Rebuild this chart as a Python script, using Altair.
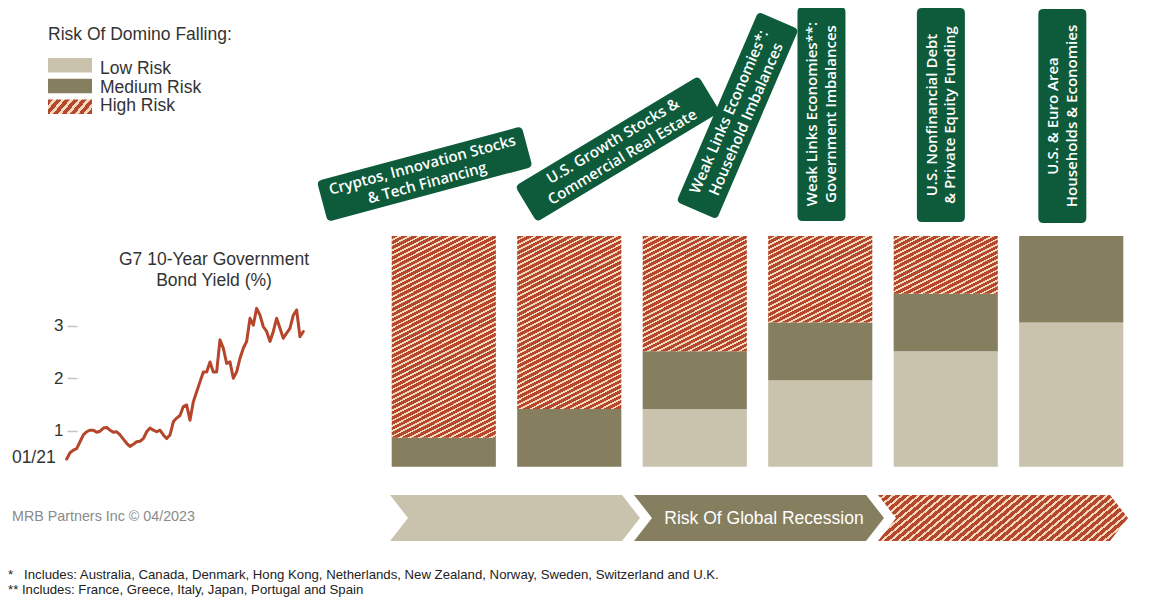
import math
import pandas as pd
import altair as alt

# ------------------------------------------------------------------ data
domino_names = [
    "Cryptos, Innovation Stocks & Tech Financing",
    "U.S. Growth Stocks & Commercial Real Estate",
    "Weak Links Economies*: Household Imbalances",
    "Weak Links Economies**: Government Imbalances",
    "U.S. Nonfinancial Debt & Private Equity Funding",
    "U.S. & Euro Area Households & Economies",
]
domino_label_lines = [
    ["Cryptos, Innovation Stocks", "& Tech Financing"],
    ["U.S. Growth Stocks &", "Commercial Real Estate"],
    ["Weak Links Economies*:", "Household Imbalances"],
    ["Weak Links Economies**:", "Government Imbalances"],
    ["U.S. Nonfinancial Debt", "& Private Equity Funding"],
    ["U.S. & Euro Area", "Households & Economies"],
]
low_risk = [0, 0, 25, 37.5, 50, 62.5]
medium_risk = [12.5, 25, 25, 25, 25, 37.5]
high_risk = [87.5, 75, 50, 37.5, 25, 0]

risk_levels = ["Low Risk", "Medium Risk", "High Risk"]
legend_title = "Risk Of Domino Falling:"
recession_labels = ["", "Risk Of Global Recession", ""]

bond_title_lines = ["G7 10-Year Government", "Bond Yield (%)"]
bond_first_label = "01/21"
bond_ticks = [1, 2, 3]
bond_start = "2021-01-04"
bond_end = "2023-04-10"
bond_yield = [
    0.46, 0.58, 0.63, 0.66, 0.79, 0.92, 0.98, 1.01, 1.01, 0.97, 0.99, 1.05,
    1.06, 1.01, 0.97, 0.98, 0.92, 0.84, 0.76, 0.70, 0.74, 0.79, 0.80, 0.85,
    0.98, 1.05, 1.01, 0.98, 1.01, 0.92, 0.85, 0.92, 1.17, 1.24, 1.29, 1.46,
    1.49, 1.20, 1.55, 1.74, 1.93, 2.12, 2.12, 2.31, 2.12, 2.12, 2.73, 2.57,
    2.28, 2.31, 2.00, 2.12, 2.38, 2.57, 2.70, 3.14, 3.01, 3.33, 3.20, 2.98,
    2.89, 2.70, 2.89, 3.14, 2.95, 2.76, 2.86, 2.95, 3.20, 3.30, 2.79, 2.89,
]

credit = "MRB Partners Inc \u00a9 04/2023"
footnotes = [
    "*\u00a0\u00a0 Includes: Australia, Canada, Denmark, Hong Kong, Netherlands, New Zealand, Norway, Sweden, Switzerland and U.K.",
    "** Includes: France, Greece, Italy, Japan, Portugal and Spain",
]

# ---------------------------------------------------------------- styles
LOW = "#C9C3AE"
MED = "#857E5F"
RUST = "#B4472C"
CREAM = "#F3D8BD"
GREEN = "#0D5B3B"
LINE = "#B5462B"
INK = "#333333"
SANS = "Liberation Sans"
LABEL_FONT = "Open Sans"

W, H = 1133, 590
BAR_RANGE = [383.7, 1115.3]
BAR_PAD = 0.17
BAR_Y = [458.7, 228.0]
STEP = (BAR_RANGE[1] - BAR_RANGE[0]) / (len(domino_names) - BAR_PAD)
BW = STEP * (1 - BAR_PAD)
PX_PER_PCT = (BAR_Y[0] - BAR_Y[1]) / 100.0

BOND_X = [58.7, 295.3]
BOND_DOMAIN = [0, 3.5]
BOND_Y = [475.2, 475.2 - 3.5 * 52.5]

# domino label layout (style only)
domino_shift = [-28, 43, 41, 3, 0.5, 0]
domino_y = [166, 141, 107.5, 106, 107, 108]
domino_angle = [345, 329, 293.3, 270, 270, 270]
domino_box = [(212, 42), (214, 42), (207, 44), (214, 48), (214, 48), (214, 48)]
LABEL_LH = 18.5

ARROW_RANGE = [507, 995]
ARROW_Y = 510
ARROW_W, ARROW_H, ARROW_D = 250, 46, 18


def hatch(w, h, theta_deg, period, light_frac):
    t = math.tan(math.radians(theta_deg))
    r = t * w / h
    b = (r + 1) / (r * r + 1)
    a = r * b
    g = math.hypot(a / w, b / h)
    n = (a + b) / (period * g)
    stops = []
    k = 0
    dark = 1 - light_frac
    while k / n < 1:
        s0 = k / n
        s1 = min((k + dark) / n, 1.0)
        s2 = min((k + 1) / n, 1.0)
        stops += [(s0, RUST), (s1, RUST), (s1, CREAM), (s2, CREAM)]
        k += 1
    return {
        "gradient": "linear", "x1": 0, "y1": 0, "x2": round(a, 5), "y2": round(b, 5),
        "stops": [{"offset": round(o, 5), "color": c} for o, c in stops],
    }


def rounded_rect_path(w, h, r):
    s = w / 2
    hx, hy, rr = 1.0, (h / 2) / s, r / s
    f = lambda v: f"{v:.4f}"
    return (f"M{f(-hx + rr)},{f(-hy)} L{f(hx - rr)},{f(-hy)} Q{f(hx)},{f(-hy)} {f(hx)},{f(-hy + rr)} "
            f"L{f(hx)},{f(hy - rr)} Q{f(hx)},{f(hy)} {f(hx - rr)},{f(hy)} L{f(-hx + rr)},{f(hy)} "
            f"Q{f(-hx)},{f(hy)} {f(-hx)},{f(hy - rr)} L{f(-hx)},{f(-hy + rr)} Q{f(-hx)},{f(-hy)} {f(-hx + rr)},{f(-hy)} Z")


def chevron_path(w, h, d):
    s = w / 2
    hy, dd = (h / 2) / s, d / s
    return (f"M-1,{-hy:.4f} L{1 - dd:.4f},{-hy:.4f} L1,0 L{1 - dd:.4f},{hy:.4f} "
            f"L-1,{hy:.4f} L{-1 + dd:.4f},0 Z")


def band_x():
    return alt.X("cat:N", scale=alt.Scale(domain=domino_names, range=BAR_RANGE,
                                          paddingInner=BAR_PAD, paddingOuter=0), axis=None)


def bar_y(field):
    return alt.Y(f"{field}:Q", scale=alt.Scale(domain=[0, 100], range=BAR_Y, nice=False, zero=False), axis=None)


def bond_x():
    y0, m0, d0 = map(int, bond_start.split("-"))
    y1, m1, d1 = map(int, bond_end.split("-"))
    return alt.X("date:T", scale=alt.Scale(
        domain=[alt.DateTime(year=y0, month=m0, date=d0), alt.DateTime(year=y1, month=m1, date=d1)],
        range=BOND_X, nice=False), axis=None)


layers = []

# ------------------------------------------------------------ stacked bars
bars = pd.DataFrame({"cat": domino_names, "low": low_risk, "medium": medium_risk, "high": high_risk})
bars["b0"] = 0.0
bars["b1"] = bars["low"]
bars["b2"] = bars["low"] + bars["medium"]
bars["b3"] = bars["b2"] + bars["high"]

layers.append(alt.Chart(bars[bars["low"] > 0]).mark_bar(fill=LOW, cornerRadius=0).encode(
    x=band_x(), y=bar_y("b0"), y2="b1"))
layers.append(alt.Chart(bars[bars["medium"] > 0]).mark_bar(fill=MED, cornerRadius=0).encode(
    x=band_x(), y=bar_y("b1"), y2="b2"))
for i in range(len(domino_names)):
    if high_risk[i] <= 0:
        continue
    hpx = high_risk[i] * PX_PER_PCT
    layers.append(alt.Chart(bars.iloc[[i]]).mark_bar(
        fill=hatch(BW, hpx, 27, 4.6, 0.36), cornerRadius=0).encode(
        x=band_x(), y=bar_y("b2"), y2="b3"))

# ------------------------------------------------------------ domino labels
for i, name in enumerate(domino_names):
    bw_, bh_ = domino_box[i]
    d = pd.DataFrame({"cat": [name], "label": ["\n".join(domino_label_lines[i])]})
    layers.append(alt.Chart(d).mark_point(
        shape=rounded_rect_path(bw_, bh_, 5), size=bw_ * bw_, filled=True, fill=GREEN,
        opacity=1, strokeWidth=0, angle=domino_angle[i], xOffset=domino_shift[i]).encode(
        x=band_x(), y=alt.value(domino_y[i])))
    n_lines = len(domino_label_lines[i])
    layers.append(alt.Chart(d).mark_text(
        angle=domino_angle[i], align="center", baseline="middle", lineBreak="\n",
        lineHeight=LABEL_LH, dy=-(n_lines - 1) * LABEL_LH / 2, xOffset=domino_shift[i],
        font=LABEL_FONT, fontWeight=600, fontSize=15, color="white").encode(
        x=band_x(), y=alt.value(domino_y[i]), text="label:N"))

# ------------------------------------------------------------ bond yield line
dates = pd.date_range(bond_start, bond_end, periods=len(bond_yield)).strftime("%Y-%m-%dT%H:%M:%S")
bond = pd.DataFrame({"date": dates, "yield": bond_yield})
layers.append(alt.Chart(bond).mark_line(color=LINE, strokeWidth=3, strokeJoin="round", strokeCap="round").encode(
    x=bond_x(),
    y=alt.Y("yield:Q", scale=alt.Scale(domain=BOND_DOMAIN, range=BOND_Y, nice=False, zero=False),
            axis=alt.Axis(values=bond_ticks, orient="left", offset=-69, tickSize=10, tickWidth=1.5,
                          tickColor="#c4c4c4", domain=False, grid=False, labelFont=SANS,
                          labelFontSize=17, labelColor=INK, labelPadding=4, title=None))))
layers.append(alt.Chart(bond.iloc[[0]].assign(label=bond_first_label)).mark_text(
    align="right", baseline="middle", dx=-11, font=SANS, fontSize=17.5, color=INK).encode(
    x=bond_x(), y=alt.value(450), text="label:N"))
layers.append(alt.Chart(pd.DataFrame({"t": ["\n".join(bond_title_lines)]})).mark_text(
    align="center", baseline="middle", lineBreak="\n", lineHeight=21, font=SANS, fontSize=17.5, color=INK).encode(
    x=alt.value(206), y=alt.value(252), text="t:N"))

# ------------------------------------------------------------ legend
legend_y = lambda: alt.Y("risk:N", scale=alt.Scale(domain=risk_levels, range=[50, 106],
                                                   paddingInner=0.3, paddingOuter=0), axis=None)
leg = pd.DataFrame({"risk": risk_levels})
layers.append(alt.Chart(pd.DataFrame({"t": [legend_title]})).mark_text(
    align="left", baseline="middle", font=SANS, fontSize=17.5, color=INK).encode(
    x=alt.value(40), y=alt.value(27), text="t:N"))
layers.append(alt.Chart(leg.iloc[[0]]).mark_rect(fill=LOW).encode(
    y=legend_y(), x=alt.value(40), x2=alt.value(84)))
layers.append(alt.Chart(leg.iloc[[1]]).mark_rect(fill=MED).encode(
    y=legend_y(), x=alt.value(40), x2=alt.value(84)))
sw_h = 56 / (3 - 0.3) * 0.7
layers.append(alt.Chart(leg.iloc[[2]]).mark_rect(fill=hatch(44, sw_h, 50, 6.5, 0.42)).encode(
    y=legend_y(), x=alt.value(40), x2=alt.value(84)))
layers.append(alt.Chart(leg).mark_text(
    align="left", baseline="middle", dy=1.5, font=SANS, fontSize=17.5, color=INK).encode(
    y=legend_y(), x=alt.value(92), text="risk:N"))

# ------------------------------------------------------------ recession arrows
arrow_x = lambda: alt.X("risk:N", scale=alt.Scale(type="point", domain=risk_levels, range=ARROW_RANGE,
                                                  padding=0), axis=None)
arrows = pd.DataFrame({"risk": risk_levels, "label": recession_labels})
cpath = chevron_path(ARROW_W, ARROW_H, ARROW_D)
layers.append(alt.Chart(arrows.iloc[[0]]).mark_point(
    shape=cpath, size=ARROW_W ** 2, filled=True, fill=LOW, opacity=1, strokeWidth=0).encode(
    x=arrow_x(), y=alt.value(ARROW_Y)))
layers.append(alt.Chart(arrows.iloc[[1]]).mark_point(
    shape=cpath, size=ARROW_W ** 2, filled=True, fill=MED, opacity=1, strokeWidth=0).encode(
    x=arrow_x(), y=alt.value(ARROW_Y)))
layers.append(alt.Chart(arrows.iloc[[2]]).mark_point(
    shape=cpath, size=ARROW_W ** 2, filled=True, fill=hatch(ARROW_W, ARROW_H, 40, 5.5, 0.36),
    opacity=1, strokeWidth=0).encode(
    x=arrow_x(), y=alt.value(ARROW_Y)))
layers.append(alt.Chart(arrows.iloc[[1]]).mark_text(
    align="center", baseline="middle", dx=5, font=SANS, fontSize=17.5, color="white").encode(
    x=arrow_x(), y=alt.value(ARROW_Y + 1), text="label:N"))

# ------------------------------------------------------------ credit + footnotes
layers.append(alt.Chart(pd.DataFrame({"t": [credit]})).mark_text(
    align="left", baseline="middle", font=SANS, fontSize=14.3, color="#8a8a8a").encode(
    x=alt.value(4), y=alt.value(509), text="t:N"))
fn = pd.DataFrame({"t": footnotes, "row": list(range(len(footnotes)))})
layers.append(alt.Chart(fn).mark_text(
    align="left", baseline="middle", font=SANS, fontSize=13.2, color="#222222").encode(
    x=alt.value(0),
    y=alt.Y("row:O", scale=alt.Scale(type="point", domain=[0, 1], range=[567, 582], padding=0), axis=None),
    text="t:N"))

chart = alt.layer(*layers).resolve_scale(x="independent", y="independent").properties(
    width=W, height=H, autosize=alt.AutoSizeParams(type="none"), padding=0, background="white"
).configure_view(stroke=None)

chart.save("out.html", embed_options={"renderer": "svg", "actions": False})
